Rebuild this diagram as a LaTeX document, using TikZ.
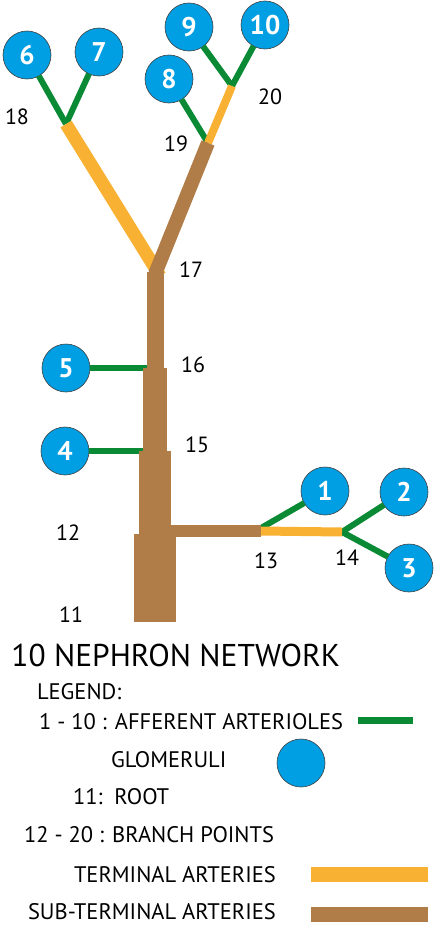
\documentclass[tikz,border=0pt]{standalone}
\usepackage{fontspec}
\setmainfont{PT Sans}
\usepackage{tikz}
\usetikzlibrary{positioning,calc}

\definecolor{glomblue}{HTML}{009FE3}
\definecolor{affgreen}{HTML}{0A8A35}
\definecolor{termorange}{HTML}{F8B133}
\definecolor{subbrown}{HTML}{B07D48}

\begin{document}
\begin{tikzpicture}[x=1pt, y=-1pt, outer sep=0pt, font=\fontsize{22}{24}\selectfont,
    glom/.style={draw=black!75, line width=0.6pt, circle, fill=glomblue, minimum size=48pt, inner sep=0pt,
        text=white, font=\fontsize{27}{27}\selectfont\bfseries},
    aff/.style={draw=affgreen, line width=6pt},
    term/.style={draw=termorange},
    subterm/.style={draw=subbrown},
    legtext/.style={anchor=west, inner sep=0pt, font=\fontsize{22.5}{24}\selectfont}]
    \useasboundingbox (0,0) rectangle (436,926);

    % branch points
    \coordinate (b11) at (155,622);
    \coordinate (b12) at (155,534);
    \coordinate (b13) at (261,531);
    \coordinate (b14) at (342,532);
    \coordinate (b15) at (155,451);
    \coordinate (b16) at (155,368);
    \coordinate (b17) at (155,272);
    \coordinate (b18) at (66,124);
    \coordinate (b19) at (208,143);
    \coordinate (b20) at (232,86);

    % glomeruli
    \node [glom] (g1) at (325,491) {1};
    \node [glom] (g2) at (404,492) {2};
    \node [glom] (g3) at (409,568) {3};
    \node [glom] (g4) at (65,451) {4};
    \node [glom] (g5) at (66,368) {5};
    \node [glom] (g6) at (27,55) {6};
    \node [glom] (g7) at (99,52) {7};
    \node [glom] (g8) at (169,79) {8};
    \node [glom] (g9) at (189,27) {9};
    \node [glom] (g10) at (265,25) {10};

    % afferent arterioles
    \draw [aff] (g1) -- ($(b13)+(0,-3)$);
    \draw [aff] (g2) -- (b14);
    \draw [aff] (g3) -- (b14);
    \draw [aff] (g4) -- (b15);
    \draw [aff] (g5) -- (b16);
    \draw [aff] (g6) -- (b18);
    \draw [aff] (g7) -- (b18);
    \draw [aff] (g8) -- (b19);
    \draw [aff] (g9) -- (b20);
    \draw [aff] (g10) -- (b20);

    % terminal arteries
    \draw [term, line width=9pt] (b13) -- (b14);
    \draw [term, line width=13pt] (b18) -- ($(b17)+(5,4)$);
    \draw [term, line width=8pt] (b19) -- (b20);

    % sub-terminal arteries
    \draw [subterm, line width=42pt] (b11) -- (b12);
    \draw [subterm, line width=32pt] (b12) -- (b15);
    \draw [subterm, line width=24pt] (b15) -- (b16);
    \draw [subterm, line width=17pt] (b16) -- (b17);
    \draw [subterm, line width=12pt] (b12 |- b13) -- (b13);
    \draw [subterm, line width=14pt] ($(b17)+(0,2)$) -- (b19);

    % branch point labels
    \node (n11) at (71,615) {11};
    \node (n12) at (68,533) {12};
    \node (n13) at (266,561) {13};
    \node (n14) at (347,558) {14};
    \node (n15) at (197,445) {15};
    \node (n16) at (193,365) {16};
    \node (n17) at (191,270) {17};
    \node (n18) at (17,117) {18};
    \node (n19) at (176,144) {19};
    \node (n20) at (270,97) {20};

    % legend
    \node [anchor=west, font=\fontsize{31.5}{33}\selectfont] (title) at (8,655) {10 NEPHRON NETWORK};
    \node [legtext] (leg) at (37,692) {LEGEND:};
    \node [legtext] (legaff) at (39,722) {1 - 10 : AFFERENT ARTERIOLES};
    \node [legtext] (legglom) at (111,760) {GLOMERULI};
    \node [legtext] (legroot) at (73,797) {11:~~ROOT};
    \node [legtext] (legbranch) at (24,835) {12 - 20 : BRANCH POINTS};
    \node [legtext] (legterm) at (74,875) {TERMINAL ARTERIES};
    \node [legtext] (legsub) at (28,912) {SUB-TERMINAL ARTERIES};

    \coordinate (affa) at (358,720);
    \coordinate (affb) at (413,720);
    \draw [aff, line width=7pt] (affa) -- (affb);
    \node [glom] (legcirc) at (301,763) {};
    \coordinate (terma) at (311,874.5);
    \coordinate (termb) at (428,874.5);
    \draw [term, line width=15pt] (terma) -- (termb);
    \coordinate (suba) at (311,914.5);
    \coordinate (subb) at (428,914.5);
    \draw [subterm, line width=15pt] (suba) -- (subb);
\end{tikzpicture}
\end{document}
